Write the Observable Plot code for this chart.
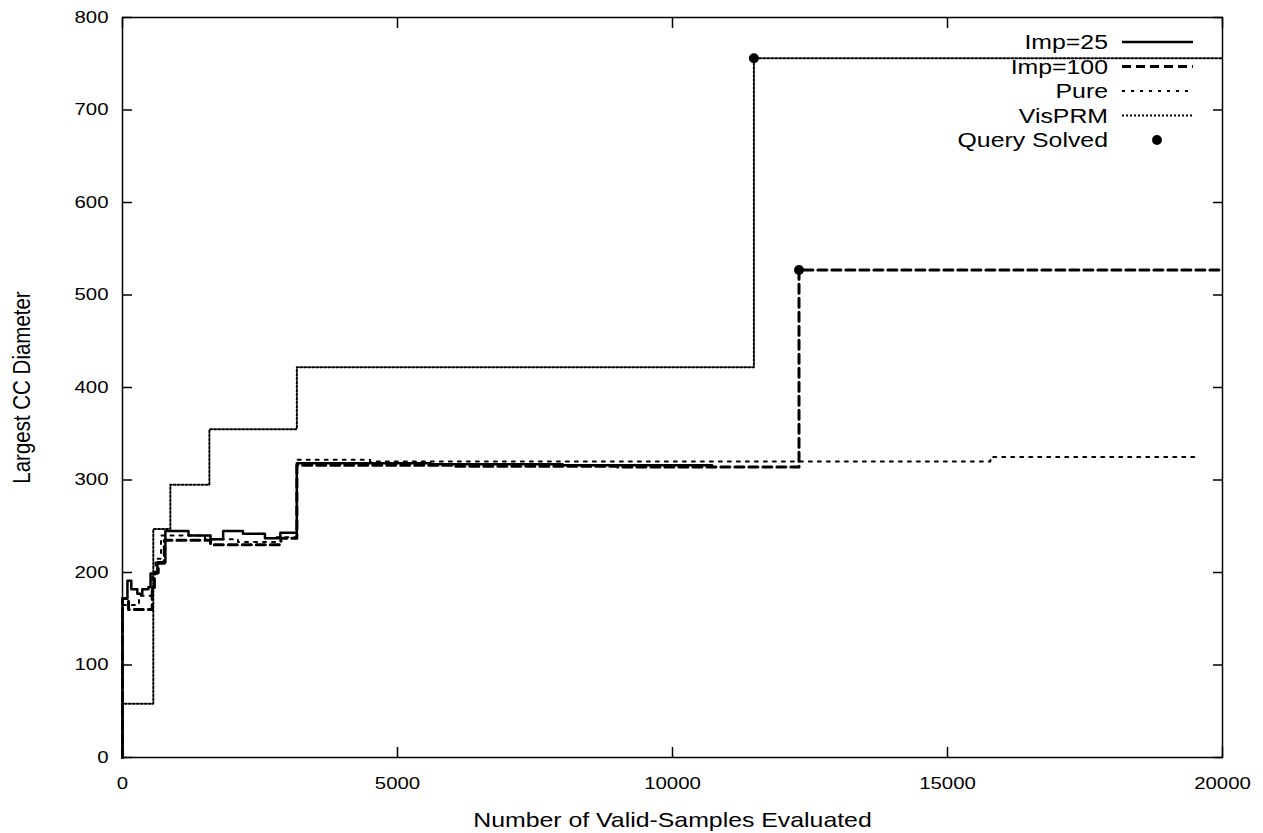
<!DOCTYPE html>
<html><head><meta charset="utf-8">
<script src="https://cdn.jsdelivr.net/npm/d3@7"></script>
<script src="https://cdn.jsdelivr.net/npm/@observablehq/plot@0.6"></script>
<style>
body{margin:0;background:#fff;}
#wrap{position:relative;width:1263px;height:833px;}
#wrap svg{position:absolute;left:0;top:0;}
</style></head><body><div id="wrap"></div>
<script>
// ---- data ----
const xTicks = [0, 5000, 10000, 15000, 20000];
const yTicks = [0, 100, 200, 300, 400, 500, 600, 700, 800];

const seriesNames = ["Imp=25", "Imp=100", "Pure", "VisPRM"];

const imp25X = [0, 0, 90, 160, 270, 360, 470, 510, 635, 780, 1200, 1600, 1830, 2190, 2590, 2870, 3170, 5600, 8000, 10720];
const imp25Y = [0, 172, 191, 182, 177, 182, 184, 199, 211, 245, 240, 236, 245, 242, 237, 243, 318, 317, 316, 316];

const imp100X = [0, 0, 110, 540, 580, 650, 760, 1600, 2880, 3170, 6000, 9000, 12300, 20000];
const imp100Y = [0, 172, 160, 182, 200, 210, 235, 230, 237, 316, 315, 314, 527, 527];

const pureX = [0, 0, 300, 540, 600, 700, 1500, 2100, 2800, 3170, 4500, 15780, 19550];
const pureY = [0, 165, 175, 195, 215, 240, 236, 233, 238, 322, 320, 325, 325];

const visX = [0, 0, 560, 870, 1580, 3170, 11480, 20000];
const visY = [0, 58, 247, 295, 355, 422, 756, 756];

const queryX = [11480, 12300];
const queryY = [756, 527];

// ---- styles ----
const styles = {
  "Imp=25": {strokeWidth: 2.5, dash: null},
  "Imp=100": {strokeWidth: 3, dash: "9,5"},
  "Pure": {strokeWidth: 2, dash: "3,6"},
  "VisPRM": {strokeWidth: 2, dash: "2,2"}
};

const toPts = (xs, ys) => xs.map((x, i) => ({x, y: ys[i]}));
const series = {
  "Imp=25": toPts(imp25X, imp25Y),
  "Imp=100": toPts(imp100X, imp100Y),
  "Pure": toPts(pureX, pureY),
  "VisPRM": toPts(visX, visY)
};
const query = toPts(queryX, queryY);

const font = "'Liberation Sans', Arial, Helvetica, sans-serif";
const STRETCH = 1.2; // glyphs in the reference are horizontally widened

const lineMarks = ["VisPRM", "Pure", "Imp=100", "Imp=25"].map(name =>
  Plot.line(series[name], {
    x: "x", y: "y", curve: "step-after", stroke: "black",
    strokeWidth: styles[name].strokeWidth,
    strokeDasharray: styles[name].dash || undefined
  })
);

const chart = Plot.plot({
  width: 1263, height: 833,
  marginLeft: 122, marginRight: 41, marginTop: 17, marginBottom: 76,
  style: {fontFamily: font, fontSize: "17px", color: "black", background: "white"},
  x: {domain: [0, 20000]},
  y: {domain: [0, 800]},
  marks: [
    ...lineMarks,
    Plot.dot(query, {x: "x", y: "y", r: 5, fill: "black"}),
    Plot.axisX({ticks: xTicks, anchor: "bottom", tickSize: -10, tickPadding: 29, strokeWidth: 1.5, label: null, fontSize: 17, tickFormat: d => String(d)}),
    Plot.axisX({ticks: xTicks, anchor: "top", tickSize: -10, strokeWidth: 1.5, label: null, tickFormat: () => ""}),
    Plot.axisY({ticks: yTicks, anchor: "left", tickSize: -10, tickPadding: 24, strokeWidth: 1.5, label: null, fontSize: 17, tickFormat: d => String(d)}),
    Plot.axisY({ticks: yTicks, anchor: "right", tickSize: -10, strokeWidth: 1.5, label: null, tickFormat: () => ""}),
    Plot.frame({stroke: "black", strokeWidth: 1.5}),
    Plot.text(["Number of Valid-Samples Evaluated"], {frameAnchor: "bottom", dy: 63, fontSize: 20.7, lineAnchor: "middle", textAnchor: "middle"}),
    Plot.text(["Largest CC Diameter"], {frameAnchor: "left", dx: -100, rotate: -90, fontSize: 20.5, lineAnchor: "middle", textAnchor: "middle"})
  ]
});
document.getElementById("wrap").appendChild(chart);

// ---- legend overlay (inside plot, top right) ----
const leg = d3.select("#wrap").append("svg")
  .attr("width", 1263).attr("height", 833)
  .style("pointer-events", "none")
  .style("font-family", font);
const legendItems = [...seriesNames, "Query Solved"];
legendItems.forEach((name, i) => {
  const cy = 42 + i * 24.5;
  leg.append("text").attr("transform", `translate(1108,${cy})`).attr("dy", "0.35em")
    .attr("text-anchor", "end").attr("font-size", 20.7).text(name);
  if (styles[name]) {
    leg.append("line").attr("x1", 1122).attr("x2", 1193).attr("y1", cy).attr("y2", cy)
      .attr("stroke", "black").attr("stroke-width", styles[name].strokeWidth)
      .attr("stroke-dasharray", styles[name].dash);
  } else {
    leg.append("circle").attr("cx", 1157).attr("cy", cy).attr("r", 5).attr("fill", "black");
  }
});

// widen glyphs horizontally about each text's anchor point
function stretchText(svgNode, s) {
  d3.select(svgNode).selectAll("text").each(function () {
    let t = this.getAttribute("transform") || "";
    if (!t) {
      const x = +this.getAttribute("x") || 0, y = +this.getAttribute("y") || 0;
      this.removeAttribute("x"); this.removeAttribute("y");
      t = `translate(${x},${y})`;
    }
    const rotated = /rotate\(\s*-?90/.test(t);
    this.setAttribute("transform", t + (rotated ? ` scale(1,${s})` : ` scale(${s},1)`));
  });
}
stretchText(chart, STRETCH);
stretchText(leg.node(), STRETCH);
</script>
</body></html>
